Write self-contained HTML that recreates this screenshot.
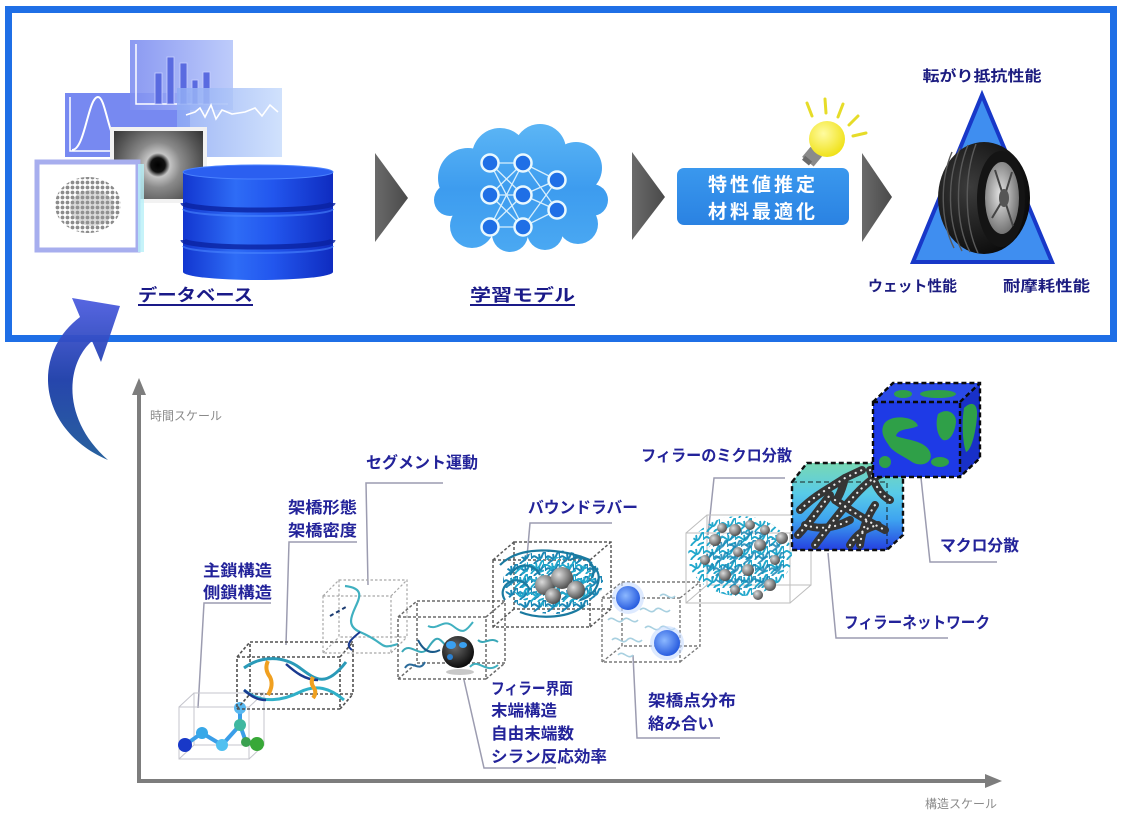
<!DOCTYPE html>
<html><head><meta charset="utf-8">
<style>
html,body{margin:0;padding:0;background:#fff;}
svg{display:block;}
text{font-family:"Liberation Sans","Noto Sans CJK JP",sans-serif;}
</style></head><body>
<svg width="1124" height="816" viewBox="0 0 1124 816" xmlns="http://www.w3.org/2000/svg">
<defs>
  <linearGradient id="gArrow" gradientUnits="userSpaceOnUse" x1="100" y1="462" x2="100" y2="298">
    <stop offset="0" stop-color="#1d5a98"/><stop offset="0.5" stop-color="#1b3ca8"/><stop offset="1" stop-color="#4e5ee0"/>
  </linearGradient>
  <linearGradient id="gPA" x1="0" y1="0" x2="1" y2="0"><stop offset="0" stop-color="#7e8ef0"/><stop offset="1" stop-color="#b6c6fa"/></linearGradient>
  <linearGradient id="gPC" x1="0" y1="0" x2="1" y2="0"><stop offset="0" stop-color="#8eaaf4"/><stop offset="1" stop-color="#c8dcfc"/></linearGradient>
  <radialGradient id="gSEM" gradientUnits="userSpaceOnUse" cx="158" cy="165" r="60">
    <stop offset="0" stop-color="#000"/><stop offset="0.12" stop-color="#111"/><stop offset="0.2" stop-color="#c4c4c4"/>
    <stop offset="0.38" stop-color="#8a8a8a"/><stop offset="0.7" stop-color="#555"/><stop offset="1" stop-color="#2a2a2a"/>
  </radialGradient>
  <linearGradient id="gCyl" gradientUnits="userSpaceOnUse" x1="183" y1="0" x2="333" y2="0">
    <stop offset="0" stop-color="#1236d0"/><stop offset="0.35" stop-color="#2e6cf6"/><stop offset="0.6" stop-color="#2256ee"/><stop offset="1" stop-color="#0f2cc0"/>
  </linearGradient>
  <linearGradient id="gCloud" gradientUnits="userSpaceOnUse" x1="0" y1="128" x2="0" y2="250">
    <stop offset="0" stop-color="#5ab4f5"/><stop offset="0.5" stop-color="#3d9cef"/><stop offset="1" stop-color="#4aa8f2"/>
  </linearGradient>
  <linearGradient id="gChev" x1="0" y1="0" x2="1" y2="0"><stop offset="0" stop-color="#6a6a6a"/><stop offset="1" stop-color="#4a4a4a"/></linearGradient>
  <linearGradient id="gBox" x1="0" y1="0" x2="0" y2="1"><stop offset="0" stop-color="#3a98ee"/><stop offset="1" stop-color="#2a82e2"/></linearGradient>
  <radialGradient id="gBulb" cx="0.4" cy="0.35" r="0.7"><stop offset="0" stop-color="#fffba0"/><stop offset="1" stop-color="#efe010"/></radialGradient>
  <radialGradient id="gTire" cx="0.35" cy="0.4" r="0.7"><stop offset="0" stop-color="#3c3c3c"/><stop offset="1" stop-color="#080808"/></radialGradient>
  <radialGradient id="gRim" cx="0.45" cy="0.45" r="0.6"><stop offset="0" stop-color="#e4e4e4"/><stop offset="1" stop-color="#6a6a6a"/></radialGradient>
  <radialGradient id="gBlk" cx="0.4" cy="0.35" r="0.7"><stop offset="0" stop-color="#6a6a6a"/><stop offset="1" stop-color="#050505"/></radialGradient>
  <radialGradient id="gGray" cx="0.35" cy="0.35" r="0.7"><stop offset="0" stop-color="#dcdcdc"/><stop offset="1" stop-color="#4a4a4a"/></radialGradient>
  <radialGradient id="gBlue" cx="0.4" cy="0.4" r="0.6"><stop offset="0" stop-color="#8cb8ff"/><stop offset="1" stop-color="#2a5ee0"/></radialGradient>
  <linearGradient id="gNet" gradientUnits="userSpaceOnUse" x1="0" y1="463" x2="0" y2="550">
    <stop offset="0" stop-color="#78d8b4"/><stop offset="0.35" stop-color="#58cbe8"/><stop offset="0.65" stop-color="#3ea4f0"/><stop offset="1" stop-color="#2440e0"/>
  </linearGradient>
  <pattern id="dots" width="5" height="5" patternUnits="userSpaceOnUse"><circle cx="2.5" cy="2.5" r="1.9" fill="#8c8c8c"/></pattern>
  <pattern id="tangle" width="16" height="14" patternUnits="userSpaceOnUse">
    <path d="M0,7 C4,0 8,14 12,5 S16,2 16,8 M3,14 C5,9 10,11 8,3 M10,14 C12,10 15,12 16,10" fill="none" stroke="#22a8cc" stroke-width="1.9"/>
  </pattern>
  <pattern id="tangle2" width="14" height="12" patternUnits="userSpaceOnUse">
    <path d="M0,6 C3,0 7,12 10,4 S14,2 14,7 M2,12 C4,8 9,10 7,2" fill="none" stroke="#1b86b4" stroke-width="2"/>
  </pattern>
</defs>

<!-- ===== TOP FRAME ===== -->
<rect x="8.5" y="9.5" width="1105" height="329" fill="#fff" stroke="#1f6fe6" stroke-width="7"/>

<!-- database panels -->
<rect x="65" y="93" width="125" height="64" fill="#6b7ff0" opacity="0.92"/>
<polyline points="70,97 70,151 185,151" fill="none" stroke="#fff" stroke-width="1.5"/>
<path d="M72,150 C85,150 88,97 98,97 C106,97 108,140 122,150" fill="none" stroke="#fff" stroke-width="2"/>
<rect x="130" y="40" width="103" height="70" fill="url(#gPA)" opacity="0.9"/>
<polyline points="136,44 136,104 228,104" fill="none" stroke="#fff" stroke-width="1.5"/>
<g fill="#5a6be0" stroke="#c8d0ff" stroke-width="0.8">
  <rect x="155" y="73" width="7" height="31"/><rect x="167" y="57" width="7" height="47"/>
  <rect x="180" y="63" width="7" height="41"/><rect x="192" y="80" width="6" height="24"/>
  <rect x="203" y="72" width="7" height="32"/>
</g>
<rect x="177" y="88" width="105" height="69" fill="url(#gPC)" opacity="0.85"/>
<polyline points="186,115 195,112 200,108 205,117 211,105 216,119 222,110 232,114 245,112 255,108 262,116 270,105 278,112" fill="none" stroke="#fff" stroke-width="1.6"/>
<rect x="110" y="127" width="97" height="76" fill="#f2f2f2"/>
<rect x="114" y="131" width="89" height="68" fill="url(#gSEM)"/>
<rect x="37" y="162" width="101" height="88" fill="#fff" stroke="#a7aeee" stroke-width="5"/>
<rect x="138" y="164" width="6" height="88" fill="#b8f0f8" opacity="0.8"/>
<ellipse cx="88" cy="205" rx="33" ry="28" fill="url(#dots)"/>
<ellipse cx="92" cy="208" rx="22" ry="18" fill="#9a9a9a" opacity="0.35"/>

<!-- cylinder -->
<rect x="183" y="172" width="150" height="100" fill="url(#gCyl)"/>
<ellipse cx="258" cy="272" rx="75" ry="8" fill="url(#gCyl)"/>
<ellipse cx="258" cy="172" rx="75" ry="7" fill="#2b5ff0" stroke="#4a82ff" stroke-width="1"/>
<path d="M183,203 A75,7 0 0 0 333,203" fill="none" stroke="#0a22a0" stroke-width="5" opacity="0.8"/>
<path d="M183,209 A75,7 0 0 0 333,209" fill="none" stroke="#4a86ff" stroke-width="2" opacity="0.6"/>
<path d="M183,240 A75,7 0 0 0 333,240" fill="none" stroke="#0a22a0" stroke-width="5" opacity="0.8"/>
<path d="M183,246 A75,7 0 0 0 333,246" fill="none" stroke="#4a86ff" stroke-width="2" opacity="0.6"/>

<text x="138" y="301" font-size="17" font-weight="bold" fill="#1a1a88" textLength="115" lengthAdjust="spacingAndGlyphs">データベース</text>
<rect x="138" y="304" width="115" height="2" fill="#1a1a88"/>

<!-- chevrons -->
<polygon points="375,153 408,198 375,242" fill="url(#gChev)"/>
<polygon points="632,152 665,197 632,240" fill="url(#gChev)"/>
<polygon points="862,153 892,197 862,242" fill="url(#gChev)"/>

<!-- cloud -->
<g fill="url(#gCloud)">
  <circle cx="468" cy="178" r="30"/><circle cx="500" cy="156" r="28"/><circle cx="540" cy="150" r="26"/>
  <circle cx="576" cy="168" r="26"/><circle cx="592" cy="200" r="16"/><circle cx="578" cy="224" r="20"/>
  <circle cx="545" cy="232" r="18"/><circle cx="510" cy="234" r="18"/><circle cx="472" cy="226" r="22"/>
  <circle cx="450" cy="200" r="16"/><ellipse cx="520" cy="195" rx="70" ry="42"/>
</g>
<g stroke="#e8f8ff" stroke-width="1.3" opacity="0.9">
  <line x1="490" y1="163" x2="523" y2="195"/><line x1="490" y1="163" x2="523" y2="227"/>
  <line x1="490" y1="195" x2="523" y2="163"/><line x1="490" y1="195" x2="523" y2="227"/>
  <line x1="490" y1="227" x2="523" y2="163"/><line x1="490" y1="227" x2="523" y2="195"/>
  <line x1="490" y1="163" x2="523" y2="163"/><line x1="490" y1="195" x2="523" y2="195"/><line x1="490" y1="227" x2="523" y2="227"/>
  <line x1="523" y1="163" x2="557" y2="180"/><line x1="523" y1="163" x2="557" y2="210"/>
  <line x1="523" y1="195" x2="557" y2="180"/><line x1="523" y1="195" x2="557" y2="210"/>
  <line x1="523" y1="227" x2="557" y2="180"/><line x1="523" y1="227" x2="557" y2="210"/>
</g>
<g fill="#1f6fe6" stroke="#e8f8ff" stroke-width="2.5">
  <circle cx="490" cy="163" r="8.5"/><circle cx="490" cy="195" r="8.5"/><circle cx="490" cy="227" r="8.5"/>
  <circle cx="523" cy="163" r="8.5"/><circle cx="523" cy="195" r="8.5"/><circle cx="523" cy="227" r="8.5"/>
  <circle cx="557" cy="180" r="8.5"/><circle cx="557" cy="210" r="8.5"/>
</g>
<text x="470" y="301" font-size="17" font-weight="bold" fill="#1a1a88" textLength="105" lengthAdjust="spacingAndGlyphs">学習モデル</text>
<rect x="470" y="304" width="105" height="2" fill="#1a1a88"/>

<!-- blue box -->
<rect x="677" y="168" width="172" height="57" rx="7" fill="url(#gBox)"/>
<text x="763" y="191" font-size="19" font-weight="bold" fill="#fff" text-anchor="middle" letter-spacing="3">特性値推定</text>
<text x="763" y="218" font-size="19" font-weight="bold" fill="#fff" text-anchor="middle" letter-spacing="3">材料最適化</text>

<!-- bulb -->
<g stroke="#e6dc28" stroke-width="3" stroke-linecap="round">
  <line x1="807" y1="103" x2="812" y2="116"/><line x1="825" y1="99" x2="826" y2="113"/>
  <line x1="843" y1="104" x2="838" y2="117"/><line x1="858" y1="116" x2="849" y2="125"/>
  <line x1="866" y1="133" x2="853" y2="136"/>
</g>
<rect x="805" y="150" width="15" height="13" fill="#8a8a8a" transform="rotate(40 812 156)"/>
<rect x="803" y="158" width="9" height="5" fill="#6a6a6a" transform="rotate(40 807 160)"/>
<circle cx="827" cy="139" r="18" fill="url(#gBulb)"/>

<!-- triangle & tire -->
<polygon points="982,95 913,262 1052,262" fill="#3f8ef0" stroke="#1838c8" stroke-width="4"/>
<ellipse cx="984" cy="198" rx="46" ry="56" fill="url(#gTire)"/>
<g fill="none" stroke="#5a5a5a" stroke-width="1.4">
  <path d="M952,152 C940,180 940,220 954,248"/><path d="M960,148 C947,178 947,222 962,251"/>
  <path d="M968,145 C955,176 955,224 970,252"/><path d="M976,144 C964,176 964,224 978,253"/>
</g>
<ellipse cx="1001" cy="199" rx="24" ry="48" fill="#141414"/>
<ellipse cx="1002" cy="198" rx="17" ry="36" fill="url(#gRim)"/>
<g stroke="#444" stroke-width="2">
  <line x1="1004" y1="198" x2="995" y2="170"/><line x1="1004" y1="198" x2="1012" y2="172"/>
  <line x1="1004" y1="198" x2="992" y2="218"/><line x1="1004" y1="198" x2="1013" y2="226"/>
</g>
<ellipse cx="1004" cy="198" rx="5" ry="9" fill="#555"/>

<text x="982" y="81" font-size="15" font-weight="bold" fill="#1c1c80" text-anchor="middle" textLength="119" lengthAdjust="spacingAndGlyphs">転がり抵抗性能</text>
<text x="868" y="291" font-size="15" font-weight="bold" fill="#1c1c80" textLength="89" lengthAdjust="spacingAndGlyphs">ウェット性能</text>
<text x="1003" y="291" font-size="15" font-weight="bold" fill="#1c1c80" textLength="87" lengthAdjust="spacingAndGlyphs">耐摩耗性能</text>

<!-- ===== curved arrow ===== -->
<path d="M108,460 C38,430 30,355 80,317 L72,298 L120,306 L101,362 L92,341 C65,365 62,420 108,460 Z" fill="url(#gArrow)" opacity="0.95"/>

<!-- ===== axes ===== -->
<line x1="139" y1="392" x2="139" y2="783" stroke="#7d7d7d" stroke-width="4"/>
<polygon points="139,378 132,395 146,395" fill="#7d7d7d"/>
<line x1="137" y1="781" x2="988" y2="781" stroke="#7d7d7d" stroke-width="4"/>
<polygon points="1002,781 985,774 985,788" fill="#7d7d7d"/>
<text x="150" y="420" font-size="12" fill="#8a8a8a">時間スケール</text>
<text x="925" y="808" font-size="12" fill="#8a8a8a">構造スケール</text>

<!-- ===== leaders ===== -->
<g fill="none" stroke="#9c9cb0" stroke-width="1.5">
  <polyline points="271,603 204,603 198,708"/>
  <polyline points="357,542 289,542 286,645"/>
  <polyline points="443,483 366,483 368,585"/>
  <polyline points="612,523 530,523 527,557"/>
  <polyline points="785,478 714,478 708,535"/>
  <polyline points="464,680 484,768 556,768"/>
  <polyline points="633,655 637,738 720,738"/>
  <polyline points="828,553 836,638 948,638"/>
  <polyline points="921,478 930,562 997,562"/>
</g>

<!-- ===== boxes ===== -->
<!-- box1 molecule -->
<g fill="none" stroke="#c4c4cc" stroke-width="1">
  <rect x="194" y="693" width="70" height="52"/>
  <line x1="179" y1="707" x2="194" y2="693"/><line x1="249" y1="707" x2="264" y2="693"/>
  <line x1="249" y1="759" x2="264" y2="745"/><line x1="179" y1="759" x2="194" y2="745"/>
  <rect x="179" y="707" width="70" height="52"/>
</g>
<g stroke="#3a9ee8" stroke-width="4" fill="none">
  <polyline points="185,745 202,733 222,745 240,725 240,708"/>
  <polyline points="240,725 246,742 257,744"/>
</g>
<circle cx="185" cy="745" r="7" fill="#1838c8"/>
<circle cx="202" cy="733" r="6" fill="#38a8e8"/>
<circle cx="222" cy="745" r="6" fill="#50c0f0"/>
<circle cx="240" cy="725" r="6" fill="#40b8a0"/>
<circle cx="240" cy="708" r="6" fill="#58b8f0"/>
<circle cx="246" cy="742" r="5" fill="#3aa050"/>
<circle cx="257" cy="744" r="7" fill="#38a838"/>

<!-- box2 crosslink -->
<g fill="none" stroke="#505050" stroke-width="1.6" stroke-dasharray="3 2">
  <rect x="250" y="642" width="103" height="52"/>
  <line x1="237" y1="657" x2="250" y2="642"/><line x1="340" y1="657" x2="353" y2="642"/>
  <line x1="340" y1="709" x2="353" y2="694"/><line x1="237" y1="709" x2="250" y2="694"/>
  <rect x="237" y="657" width="103" height="52"/>
</g>
<path d="M244,668 C262,655 284,656 300,668 S326,688 346,662" fill="none" stroke="#2a9ab8" stroke-width="3"/>
<path d="M286,664 C295,672 305,680 318,680" fill="none" stroke="#1a3a90" stroke-width="2.5"/>
<path d="M244,690 C262,705 284,700 300,692 S330,688 344,700" fill="none" stroke="#30b0c8" stroke-width="3"/>
<path d="M244,690 C252,697 258,700 266,700" fill="none" stroke="#1a3a90" stroke-width="2.5"/>
<path d="M268,661 q-4,8 2,16 q4,8 -2,18" fill="none" stroke="#f0a020" stroke-width="4"/>
<path d="M313,677 q-3,6 1,11 q3,5 -1,10" fill="none" stroke="#f0a020" stroke-width="4"/>

<!-- box3 segment -->
<g fill="none" stroke="#a8a8a8" stroke-width="1.2" stroke-dasharray="2.5 2">
  <rect x="339" y="580" width="68" height="57"/>
  <line x1="323" y1="596" x2="339" y2="580"/><line x1="391" y1="596" x2="407" y2="580"/>
  <line x1="391" y1="653" x2="407" y2="637"/><line x1="323" y1="653" x2="339" y2="637"/>
  <rect x="323" y="596" width="68" height="57"/>
</g>
<path d="M345,586 C382,590 332,620 360,632 S378,650 398,644" fill="none" stroke="#40b0c0" stroke-width="2.2"/>
<path d="M360,632 C350,640 345,645 352,650" fill="none" stroke="#1a3a90" stroke-width="2"/>
<line x1="330" y1="616" x2="346" y2="607" stroke="#1a3a70" stroke-width="2" stroke-dasharray="4 3"/>

<!-- box4 filler interface -->
<g fill="none" stroke="#6a6a6a" stroke-width="1.5" stroke-dasharray="3 2">
  <rect x="417" y="601" width="88" height="62"/>
  <line x1="398" y1="617" x2="417" y2="601"/><line x1="486" y1="617" x2="505" y2="601"/>
  <line x1="486" y1="679" x2="505" y2="663"/><line x1="398" y1="679" x2="417" y2="663"/>
  <rect x="398" y="617" width="88" height="62"/>
</g>
<g fill="none" stroke-width="2">
  <path d="M402,652 c8,-12 18,8 26,-4 s10,-12 18,-2" stroke="#3aa8b8"/>
  <path d="M405,668 c6,-10 14,6 20,-6" stroke="#2a6a9a"/>
  <path d="M428,626 c10,5 15,-8 25,0 s12,6 20,-4" stroke="#40b0c0"/>
  <path d="M470,667 c8,-10 16,8 28,-2" stroke="#40b0c0"/>
  <path d="M418,640 c5,10 12,15 22,10" stroke="#1a5a8a"/>
  <path d="M478,640 c6,6 12,-4 20,2" stroke="#3aa8b8"/>
</g>
<ellipse cx="460" cy="672" rx="14" ry="3" fill="#c8c8c8"/>
<circle cx="458" cy="652" r="16" fill="url(#gBlk)"/>
<ellipse cx="451" cy="645" rx="5" ry="4" fill="#3aa0f0"/>
<ellipse cx="463" cy="645" rx="4" ry="3" fill="#3aa0f0"/>
<ellipse cx="450" cy="657" rx="3" ry="3" fill="#2a80d0"/>

<!-- box5 bound rubber -->
<g fill="none" stroke="#5a5a5a" stroke-width="1.5" stroke-dasharray="3 2">
  <rect x="514" y="542" width="97" height="67"/>
  <line x1="493" y1="560" x2="514" y2="542"/><line x1="590" y1="560" x2="611" y2="542"/>
  <line x1="590" y1="627" x2="611" y2="609"/><line x1="493" y1="627" x2="514" y2="609"/>
  <rect x="493" y="560" width="97" height="67"/>
</g>
<ellipse cx="553" cy="582" rx="50" ry="32" fill="url(#tangle2)"/>
<ellipse cx="553" cy="582" rx="42" ry="25" fill="url(#tangle)"/>
<g fill="none" stroke="#1a7aa0" stroke-width="2.2">
  <path d="M500,565 C520,545 560,548 590,560"/><path d="M505,600 C495,585 520,570 530,590"/>
  <path d="M580,600 C600,595 605,570 590,565"/><path d="M520,612 C540,620 570,618 585,605"/>
  <path d="M510,575 C520,560 535,565 540,575"/><path d="M570,560 C585,552 598,565 592,578"/>
</g>
<circle cx="545" cy="585" r="10" fill="url(#gGray)"/>
<circle cx="562" cy="578" r="11" fill="url(#gGray)"/>
<circle cx="576" cy="590" r="9" fill="url(#gGray)"/>
<circle cx="553" cy="596" r="8" fill="url(#gGray)"/>

<!-- box6 crosslink distribution -->
<g fill="none" stroke="#7a7a7a" stroke-width="1.4" stroke-dasharray="3 2">
  <rect x="622" y="582" width="78" height="64"/>
  <line x1="602" y1="598" x2="622" y2="582"/><line x1="680" y1="598" x2="700" y2="582"/>
  <line x1="680" y1="662" x2="700" y2="646"/><line x1="602" y1="662" x2="622" y2="646"/>
  <rect x="602" y="598" width="78" height="64"/>
</g>
<g fill="none" stroke="#a8d0e0" stroke-width="1.6">
  <path d="M608,620 c5,-6 10,6 15,0 s10,6 15,0"/><path d="M640,610 c5,-6 10,6 15,0 s10,6 15,0"/>
  <path d="M612,640 c5,-6 10,6 15,0 s10,6 15,0"/><path d="M645,628 c5,-6 10,6 15,0 s10,6 15,0"/>
  <path d="M618,655 c5,-6 10,6 15,0"/><path d="M660,596 c5,-6 10,6 15,0"/>
</g>
<circle cx="628" cy="598" r="16" fill="#c8dcff" opacity="0.6"/>
<circle cx="628" cy="598" r="12" fill="url(#gBlue)"/>
<circle cx="667" cy="643" r="17" fill="#c8dcff" opacity="0.6"/>
<circle cx="667" cy="643" r="13" fill="url(#gBlue)"/>

<!-- box7 micro dispersion -->
<g fill="none" stroke="#bdbdbd" stroke-width="1">
  <rect x="707" y="515" width="104" height="70"/>
  <line x1="686" y1="533" x2="707" y2="515"/><line x1="790" y1="533" x2="811" y2="515"/>
  <line x1="790" y1="603" x2="811" y2="585"/><line x1="686" y1="603" x2="707" y2="585"/>
  <rect x="686" y="533" width="104" height="70"/>
</g>
<ellipse cx="740" cy="556" rx="52" ry="40" fill="url(#tangle)"/>
<ellipse cx="745" cy="560" rx="40" ry="30" fill="url(#tangle2)" opacity="0.85"/>
<g fill="url(#gGray)">
  <circle cx="715" cy="540" r="6"/><circle cx="735" cy="530" r="6"/><circle cx="760" cy="545" r="6"/>
  <circle cx="748" cy="570" r="6"/><circle cx="770" cy="585" r="6"/><circle cx="725" cy="575" r="6"/>
  <circle cx="705" cy="560" r="5"/><circle cx="782" cy="538" r="6"/><circle cx="758" cy="595" r="5"/>
  <circle cx="738" cy="552" r="5"/><circle cx="775" cy="560" r="5"/><circle cx="722" cy="528" r="5"/>
  <circle cx="750" cy="525" r="5"/><circle cx="735" cy="590" r="5"/><circle cx="765" cy="530" r="5"/>
</g>

<!-- box8 network -->
<path d="M792,482 L807,463 L903,463 L903,535 L887,550 L792,550 Z" fill="url(#gNet)" stroke="#111" stroke-width="2.4" stroke-dasharray="5 3"/>
<polyline points="792,482 887,482 887,550" fill="none" stroke="#111" stroke-width="1.6" stroke-dasharray="5 3" opacity="0.6"/>
<g fill="none" stroke-linecap="round" stroke-linejoin="round">
  <g stroke="#353535" stroke-width="8">
    <path d="M800,510 C815,495 830,488 845,478 L862,470"/>
    <path d="M815,545 C830,525 845,505 860,490 C870,480 880,472 895,470"/>
    <path d="M835,500 C850,510 865,520 885,530"/>
    <path d="M805,525 C820,530 835,528 850,520"/>
    <path d="M860,545 C862,530 868,515 875,505"/>
    <path d="M845,478 C842,490 838,500 835,500"/>
    <path d="M798,535 C812,520 822,505 830,495"/>
    <path d="M850,545 C856,535 865,528 878,525"/>
    <path d="M870,470 C875,485 880,495 890,500"/>
  </g>
  <g stroke="#e8e8e8" stroke-width="2.2" stroke-dasharray="0.1 6">
    <path d="M800,510 C815,495 830,488 845,478 L862,470"/>
    <path d="M815,545 C830,525 845,505 860,490 C870,480 880,472 895,470"/>
    <path d="M835,500 C850,510 865,520 885,530"/>
    <path d="M805,525 C820,530 835,528 850,520"/>
    <path d="M860,545 C862,530 868,515 875,505"/>
    <path d="M798,535 C812,520 822,505 830,495"/>
    <path d="M850,545 C856,535 865,528 878,525"/>
    <path d="M870,470 C875,485 880,495 890,500"/>
  </g>
</g>

<!-- box9 macro -->
<rect x="873" y="402" width="87" height="75" fill="#1e3ae6"/>
<polygon points="873,402 893,383 980,383 960,402" fill="#2a4ae8"/>
<polygon points="960,402 980,383 980,458 960,477" fill="#1830c8"/>
<g fill="#2fa048">
  <path d="M884,424 C890,414 915,416 918,426 C910,430 898,428 896,436 C905,440 925,440 930,452 C934,462 922,468 912,462 C904,456 892,452 888,444 C884,438 880,432 884,424 Z"/>
  <path d="M938,414 C946,408 956,412 956,422 C955,432 950,442 943,440 C937,436 935,424 938,414 Z"/>
  <ellipse cx="885" cy="462" rx="6" ry="6"/>
  <ellipse cx="940" cy="462" rx="9" ry="5"/>
  <ellipse cx="903" cy="394" rx="9" ry="4"/>
  <ellipse cx="938" cy="394" rx="18" ry="4"/>
  <path d="M964,408 C972,400 978,404 977,416 C976,430 972,450 966,452 C962,440 962,420 964,408 Z"/>
</g>
<g fill="none" stroke="#0a0a0a" stroke-width="2.4" stroke-dasharray="5 3">
  <rect x="873" y="402" width="87" height="75"/>
  <polyline points="873,402 893,383 980,383 980,458 960,477"/>
  <line x1="960" y1="402" x2="980" y2="383"/>
</g>

<!-- ===== lower labels ===== -->
<g font-size="16" font-weight="bold" fill="#23239a">
  <text x="203" y="576" textLength="69" lengthAdjust="spacingAndGlyphs">主鎖構造</text>
  <text x="203" y="598" textLength="69" lengthAdjust="spacingAndGlyphs">側鎖構造</text>
  <text x="288" y="513" textLength="69" lengthAdjust="spacingAndGlyphs">架橋形態</text>
  <text x="288" y="536" textLength="69" lengthAdjust="spacingAndGlyphs">架橋密度</text>
  <text x="366" y="468" textLength="112" lengthAdjust="spacingAndGlyphs">セグメント運動</text>
  <text x="528" y="513" textLength="110" lengthAdjust="spacingAndGlyphs">バウンドラバー</text>
  <text x="641" y="461" textLength="151" lengthAdjust="spacingAndGlyphs">フィラーのミクロ分散</text>
  <text x="491" y="694" textLength="82" lengthAdjust="spacingAndGlyphs">フィラー界面</text>
  <text x="491" y="716" textLength="66" lengthAdjust="spacingAndGlyphs">末端構造</text>
  <text x="491" y="739" textLength="83" lengthAdjust="spacingAndGlyphs">自由末端数</text>
  <text x="491" y="762" textLength="116" lengthAdjust="spacingAndGlyphs">シラン反応効率</text>
  <text x="648" y="706" textLength="88" lengthAdjust="spacingAndGlyphs">架橋点分布</text>
  <text x="648" y="729" textLength="66" lengthAdjust="spacingAndGlyphs">絡み合い</text>
  <text x="940" y="551" textLength="79" lengthAdjust="spacingAndGlyphs">マクロ分散</text>
  <text x="844" y="628" textLength="146" lengthAdjust="spacingAndGlyphs">フィラーネットワーク</text>
</g>
</svg>
</body></html>
